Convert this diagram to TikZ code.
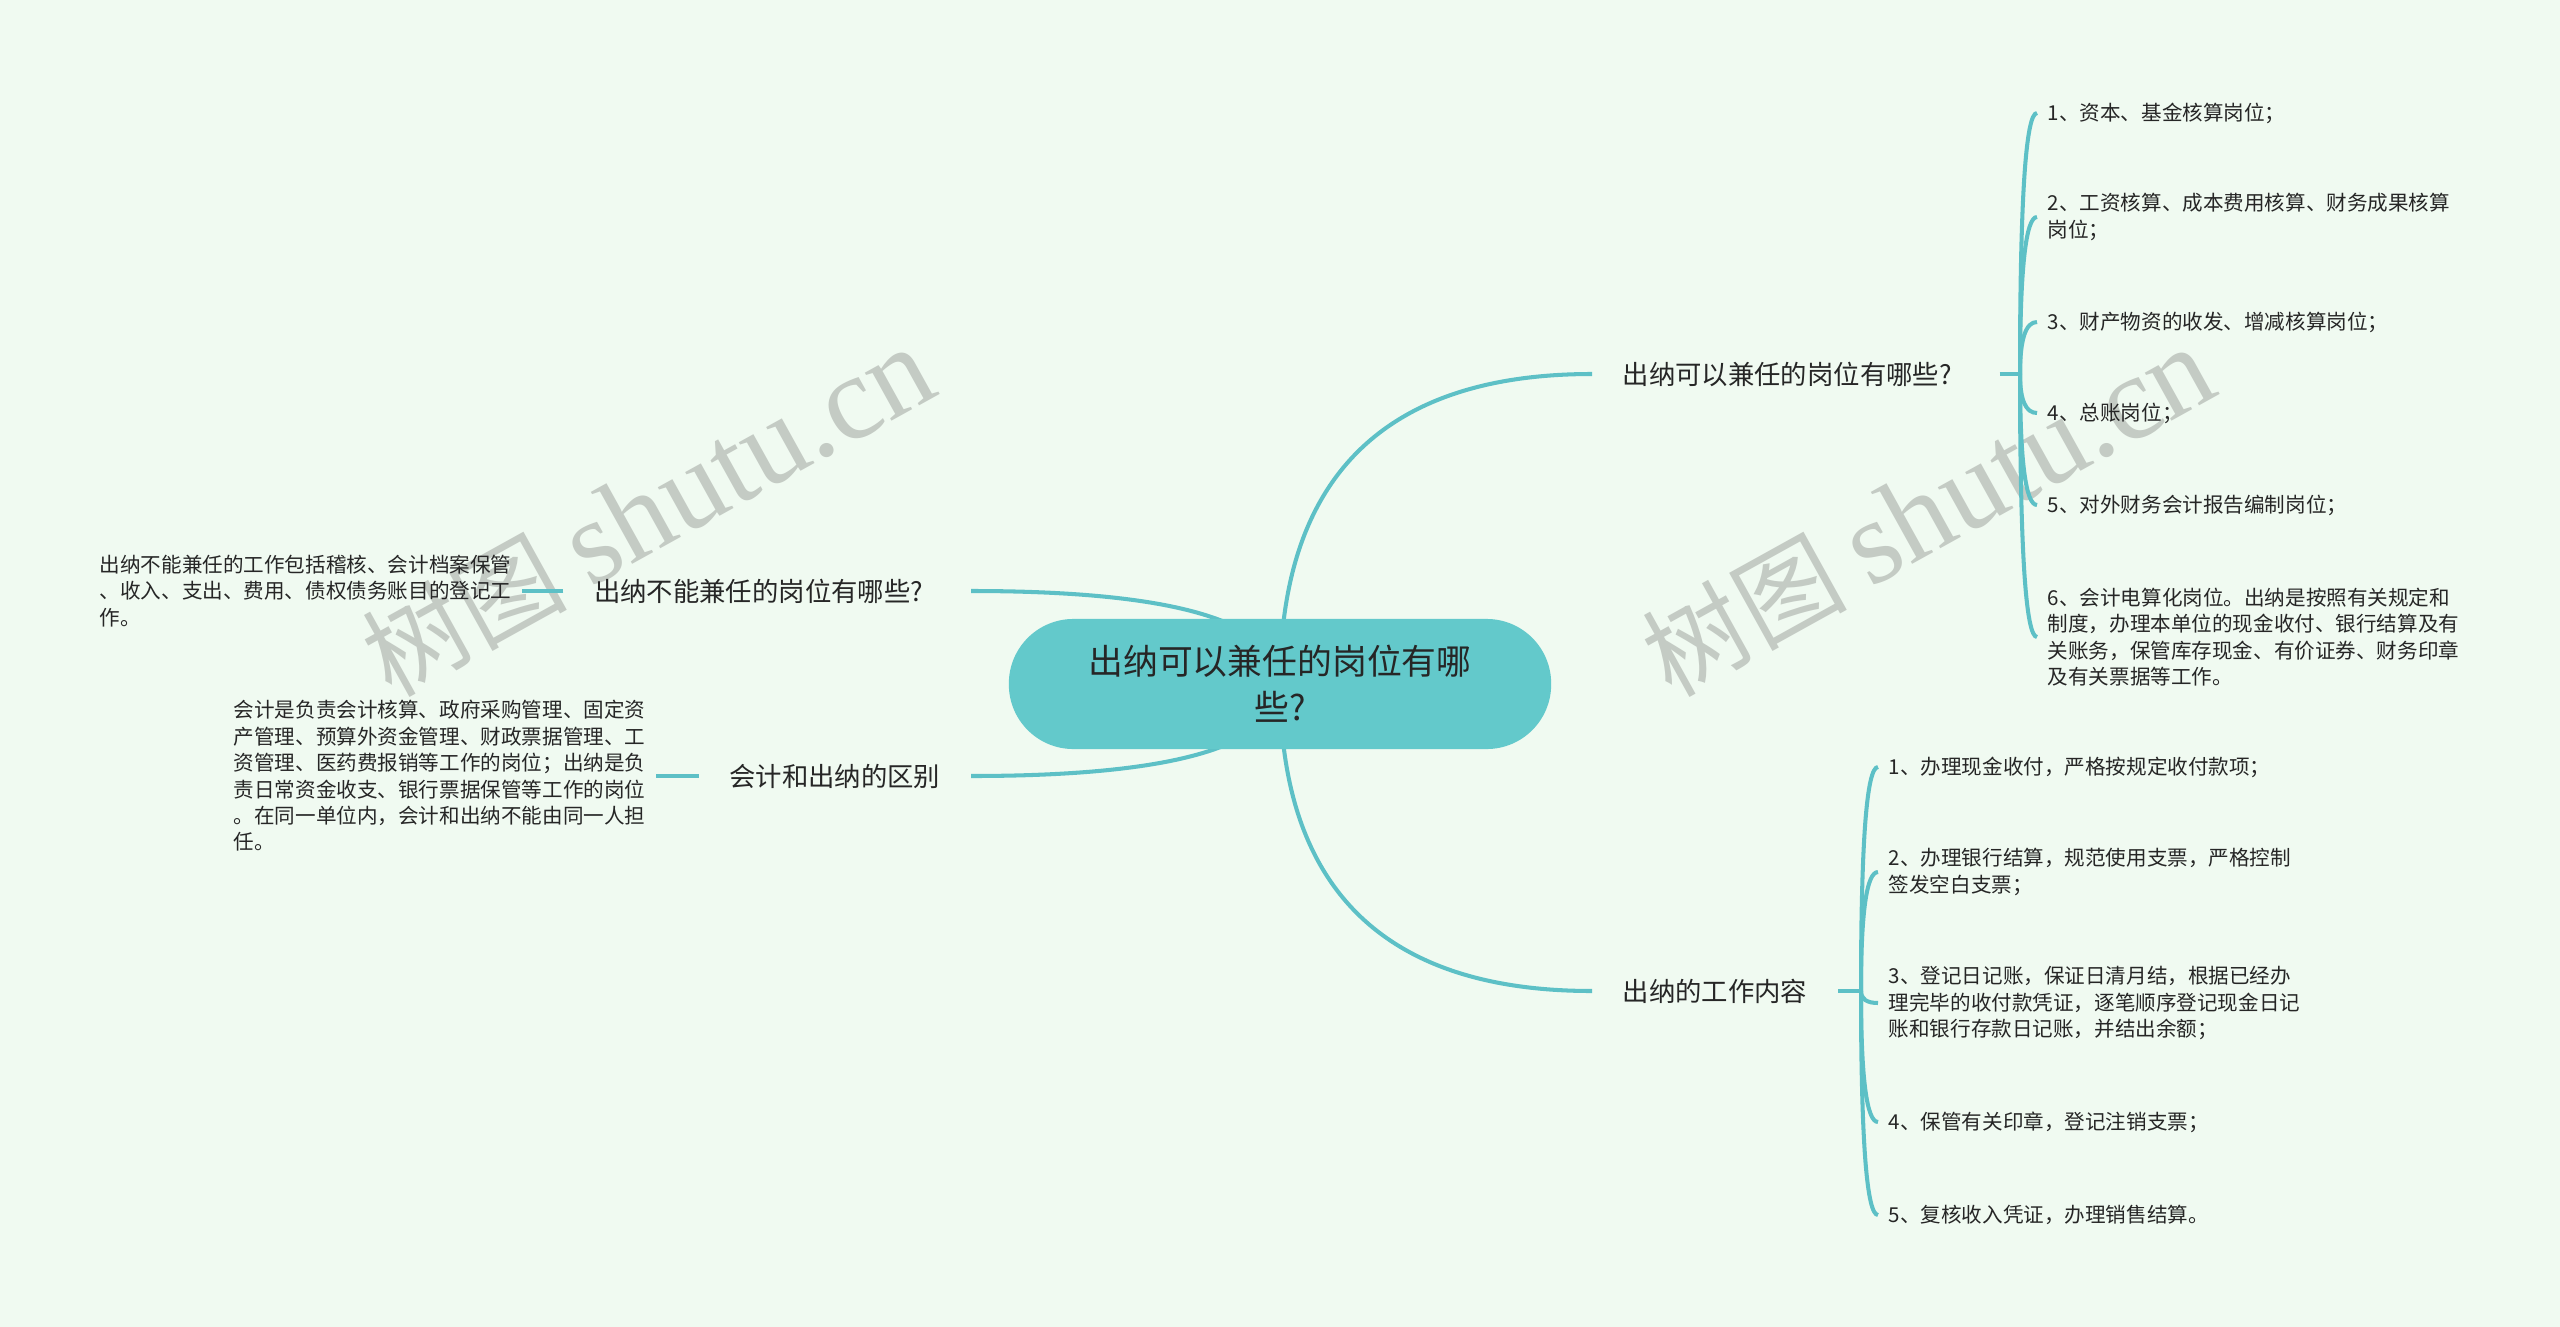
\documentclass[tikz,border=0pt]{standalone}
\usepackage{fontspec}
\setmainfont{Noto Sans CJK SC}
\newfontfamily\wmserif{Liberation Serif}
\usetikzlibrary{positioning,backgrounds,calc}

\definecolor{mintbg}{HTML}{F0FAF1}
\definecolor{tealline}{HTML}{5DC0C6}
\definecolor{tealroot}{HTML}{63C9CB}
\definecolor{darktext}{HTML}{262626}
\definecolor{wmgray}{HTML}{C4CBC4}

\tikzset{
  link/.style={draw=tealline, line width=1.15pt},
  softbend/.style={to path={.. controls ($(\tikztostart)!2/3!(\tikztostart |- \tikztotarget)$)
    and ($(\tikztotarget)!2/3!(\tikztostart |- \tikztotarget)$) .. (\tikztotarget)}},
  rootbox/.style={fill=tealroot, rounded corners=0.645cm, minimum width=5.42cm,
    minimum height=1.3cm, align=center, text=darktext,
    font=\fontsize{9.9pt}{13pt}\selectfont},
  branch/.style={inner xsep=0.3cm, inner ysep=0.1cm, text=darktext,
    font=\fontsize{7.5pt}{9pt}\selectfont},
  leaf/.style={inner xsep=0.1cm, inner ysep=0.05cm, align=left, text=darktext,
    font=\fontsize{5.85pt}{7.5pt}\selectfont},
  wmtext/.style={text=wmgray, rotate=29, font=\fontsize{29pt}{29pt}\selectfont},
}

\begin{document}
\begin{tikzpicture}[x=0.01cm, y=-0.01cm]
  \useasboundingbox (0,0) rectangle (2560,1327);

  % 中心主题
  \node[rootbox] (root) at (1280,684) {出纳可以兼任的岗位有哪\\些?};

  % 一级分支
  \node[branch, anchor=west, text width=3.46cm, align=left] (canjob) at (1592,374) {出纳可以兼任的岗位有哪些?};
  \node[branch, anchor=west] (cashwork) at (1592,991) {出纳的工作内容};
  \node[branch, anchor=east, text width=3.46cm, align=left] (nojob) at (971,591) {出纳不能兼任的岗位有哪些?};
  \node[branch, anchor=east] (diff) at (971,776) {会计和出纳的区别};

  % 可以兼任的岗位
  \coordinate (hubA) at (2020,374);
  \node[leaf, anchor=west] (a1) at (2037,113) {1、资本、基金核算岗位；};
  \node[leaf, anchor=west] (a2) at (2037,217) {2、工资核算、成本费用核算、财务成果核算\\岗位；};
  \node[leaf, anchor=west] (a3) at (2037,322) {3、财产物资的收发、增减核算岗位；};
  \node[leaf, anchor=west] (a4) at (2037,413) {4、总账岗位；};
  \node[leaf, anchor=west] (a5) at (2037,505) {5、对外财务会计报告编制岗位；};
  \node[leaf, anchor=west] (a6) at (2037,637) {6、会计电算化岗位。出纳是按照有关规定和\\制度，办理本单位的现金收付、银行结算及有\\关账务，保管库存现金、有价证券、财务印章\\及有关票据等工作。};

  % 出纳的工作内容
  \coordinate (hubB) at (1861,991);
  \node[leaf, anchor=west] (b1) at (1878,767) {1、办理现金收付，严格按规定收付款项；};
  \node[leaf, anchor=west] (b2) at (1878,872) {2、办理银行结算，规范使用支票，严格控制\\签发空白支票；};
  \node[leaf, anchor=west] (b3) at (1878,1003) {3、登记日记账，保证日清月结，根据已经办\\理完毕的收付款凭证，逐笔顺序登记现金日记\\账和银行存款日记账，并结出余额；};
  \node[leaf, anchor=west] (b4) at (1878,1122) {4、保管有关印章，登记注销支票；};
  \node[leaf, anchor=west] (b5) at (1878,1215) {5、复核收入凭证，办理销售结算。};

  % 左侧说明
  \node[leaf, anchor=east] (noleaf) at (522,591) {出纳不能兼任的工作包括稽核、会计档案保管\\、收入、支出、费用、债权债务账目的登记工\\作。};
  \node[leaf, anchor=east] (diffleaf) at (656,776) {会计是负责会计核算、政府采购管理、固定资\\产管理、预算外资金管理、财政票据管理、工\\资管理、医药费报销等工作的岗位；出纳是负\\责日常资金收支、银行票据保管等工作的岗位\\。在同一单位内，会计和出纳不能由同一人担\\任。};

  \begin{scope}[on background layer]
    \fill[mintbg] (0,0) rectangle (2560,1327);
    \node[wmtext] (wmleft) at (648,512) {树图 {\wmserif\fontsize{34pt}{34pt}\selectfont shutu.cn}};
    \node[wmtext] (wmright) at (1928,512) {树图 {\wmserif\fontsize{34pt}{34pt}\selectfont shutu.cn}};

    % 主干曲线
    \draw[link] (root.center) to[softbend] (canjob.west);
    \draw[link] (root.center) to[softbend] (cashwork.west);
    \draw[link] (root.center) to[softbend] (nojob.east);
    \draw[link] (root.center) to[softbend] (diff.east);

    % 分支连线
    \draw[link] (canjob.east) -- (hubA);
    \foreach \n in {a1,a2,a3,a4,a5,a6}
      \draw[link] (hubA) to[softbend] (\n.west);
    \draw[link] (cashwork.east) -- (hubB);
    \foreach \n in {b1,b2,b3,b4,b5}
      \draw[link] (hubB) to[softbend] (\n.west);
    \draw[link] (nojob.west) -- (noleaf.east);
    \draw[link] (diff.west) -- (diffleaf.east);
  \end{scope}
\end{tikzpicture}
\end{document}
